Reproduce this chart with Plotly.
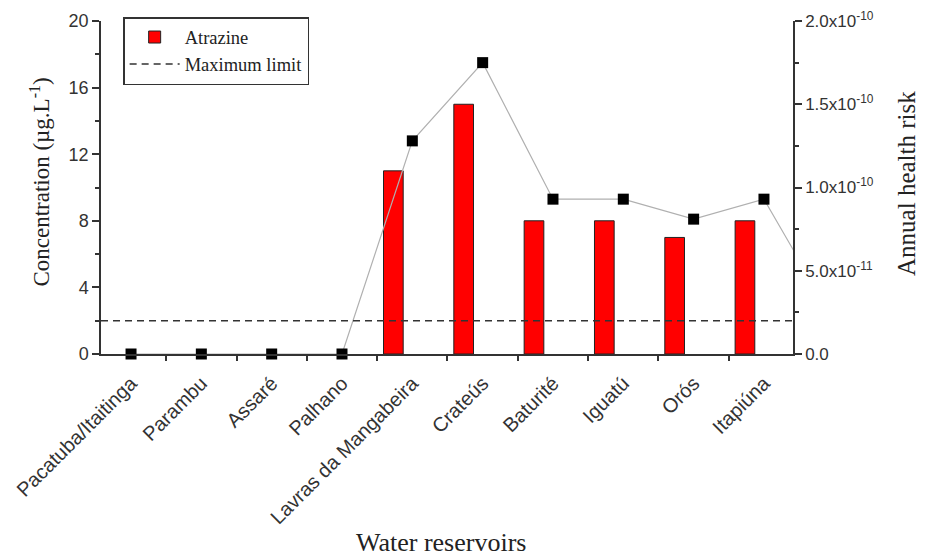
import plotly.graph_objects as go

# ---- data ----
reservoirs = ["Pacatuba/Itaitinga", "Parambu", "Assaré", "Palhano",
              "Lavras da Mangabeira", "Crateús", "Baturité", "Iguatú",
              "Orós", "Itapiúna"]
concentration = [0, 0, 0, 0, 11, 15, 8, 8, 7, 8]          # µg.L-1
annual_risk = [0, 0, 0, 0, 1.28e-10, 1.75e-10, 0.93e-10, 0.93e-10,
               0.81e-10, 0.93e-10]
risk_next = 0.2e-10          # line continues to a point cut off by the axis
max_limit = 2                # µg.L-1

left_ticks = [0, 4, 8, 12, 16, 20]
right_tickvals = [0, 0.5e-10, 1.0e-10, 1.5e-10, 2.0e-10]
right_ticktext = ["0.0", "5.0x10<sup>-11</sup>", "1.0x10<sup>-10</sup>",
                  "1.5x10<sup>-10</sup>", "2.0x10<sup>-10</sup>"]

pos = list(range(len(reservoirs)))
pos_line = pos + [len(reservoirs)]
bar_heights = [v if v > 0 else None for v in concentration]

SERIF = "Liberation Serif, Times New Roman, serif"
SANS = "Liberation Sans, Arial, sans-serif"
AX = "#333333"

fig = go.Figure()

fig.add_trace(go.Bar(
    x=pos, y=bar_heights, name="Atrazine",
    offset=-0.41, width=0.28,
    marker=dict(color="#ff0000", line=dict(color="#222222", width=1)),
    yaxis="y",
))

fig.add_trace(go.Scatter(
    x=pos_line, y=annual_risk + [risk_next], mode="lines",
    line=dict(color="#b0b0b0", width=1.2),
    showlegend=False, yaxis="y2", hoverinfo="skip",
))
fig.add_trace(go.Scatter(
    x=pos, y=annual_risk, mode="markers",
    marker=dict(symbol="square", size=11, color="#000000"),
    showlegend=False, yaxis="y2", cliponaxis=False,
))

fig.add_hline(y=max_limit, yref="y", line=dict(color="#333333", width=1.5, dash="7px,5px"),
              layer="above", showlegend=True, name="Maximum limit")

# page body has an 8px margin, so the figure is slightly smaller than the window
fig.update_layout(
    width=918, height=548,
    margin=dict(l=93, r=133, t=13, b=202, autoexpand=False),
    paper_bgcolor="white", plot_bgcolor="white",
    showlegend=True,
    legend=dict(x=0.032, y=1.012, xanchor="left", yanchor="top",
                bordercolor="#333333", borderwidth=1.5,
                font=dict(family=SERIF, size=18.5, color="#222222"),
                bgcolor="white", itemwidth=50),
    xaxis=dict(
        range=[-0.427, 9.413], showgrid=False, zeroline=False,
        automargin=False,
        tickvals=pos, ticktext=reservoirs, tickangle=-45,
        ticks="", ticklabelstandoff=8,
        tickfont=dict(family=SANS, size=20, color="#333333"),
        showline=True, linecolor=AX, linewidth=1.5,
        minor=dict(ticks="outside", tick0=0.5, dtick=1, ticklen=5,
                   tickcolor=AX, tickwidth=1.5),
    ),
    yaxis=dict(
        range=[0, 20], tickvals=left_ticks, showgrid=False, zeroline=False,
        automargin=False,
        ticks="outside", ticklen=7, tickwidth=1.5, tickcolor=AX,
        minor=dict(ticks="outside", tick0=2, dtick=4, ticklen=4,
                   tickcolor=AX, tickwidth=1.5),
        showline=True, linecolor=AX, linewidth=1.5,
        tickfont=dict(family=SANS, size=18, color="#333333"),
    ),
    yaxis2=dict(
        range=[0, 2.0e-10], overlaying="y", side="right",
        automargin=False,
        tickvals=right_tickvals, ticktext=right_ticktext,
        showgrid=False, zeroline=False,
        ticks="outside", ticklen=7, tickwidth=1.5, tickcolor=AX,
        minor=dict(ticks="outside", tick0=0.25e-10, dtick=0.5e-10, ticklen=4,
                   tickcolor=AX, tickwidth=1.5),
        showline=True, linecolor=AX, linewidth=1.5,
        tickfont=dict(family=SANS, size=17, color="#333333"),
    ),
    annotations=[
        dict(text="Concentration (µg.L<sup>-1</sup>)", textangle=-90,
             xref="paper", yref="paper", x=-0.088, y=0.515,
             xanchor="center", yanchor="middle", showarrow=False,
             font=dict(family=SERIF, size=23, color="#222222")),
        dict(text="Annual health risk", textangle=-90,
             xref="paper", yref="paper", x=1.163, y=0.513,
             xanchor="center", yanchor="middle", showarrow=False,
             font=dict(family=SERIF, size=25, color="#222222")),
        dict(text="Water reservoirs",
             xref="paper", yref="paper", x=0.492, y=-0.567,
             xanchor="center", yanchor="middle", showarrow=False,
             font=dict(family=SERIF, size=26, color="#222222")),
    ],
)

fig.write_html("out.html")
